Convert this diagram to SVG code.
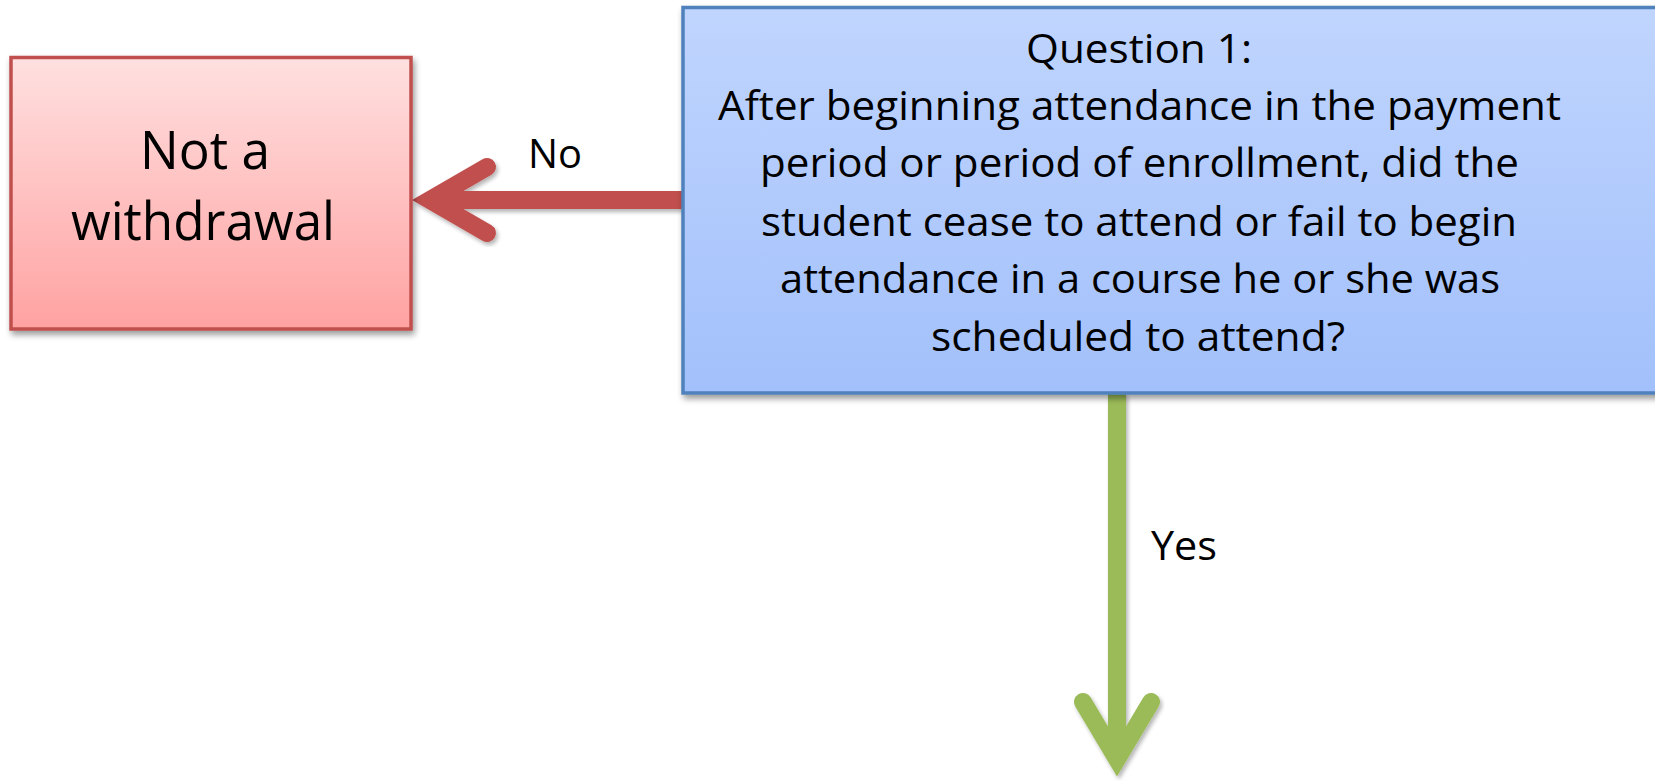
<svg xmlns="http://www.w3.org/2000/svg" width="1655" height="781" viewBox="0 0 1655 781">
  <defs>
    <linearGradient id="gRed" x1="0" y1="0" x2="0" y2="1">
      <stop offset="0" stop-color="#ffe0e0"/>
      <stop offset="1" stop-color="#ffa2a2"/>
    </linearGradient>
    <linearGradient id="gBlue" x1="0" y1="0" x2="0" y2="1">
      <stop offset="0" stop-color="#c0d5fe"/>
      <stop offset="1" stop-color="#a2c0fb"/>
    </linearGradient>
    <filter id="shadow" x="-10%" y="-10%" width="120%" height="130%">
      <feGaussianBlur in="SourceAlpha" stdDeviation="3"/>
      <feOffset dx="2" dy="4" result="b"/>
      <feComponentTransfer><feFuncA type="linear" slope="0.4"/></feComponentTransfer>
      <feMerge><feMergeNode/><feMergeNode in="SourceGraphic"/></feMerge>
    </filter>
    <filter id="ashadow" x="-20%" y="-20%" width="140%" height="140%">
      <feGaussianBlur in="SourceAlpha" stdDeviation="2"/>
      <feOffset dx="2" dy="3" result="b"/>
      <feComponentTransfer><feFuncA type="linear" slope="0.3"/></feComponentTransfer>
      <feMerge><feMergeNode/><feMergeNode in="SourceGraphic"/></feMerge>
    </filter>
  </defs>
  <style>
    text { font-family: "Open Sans", "Noto Sans", "Liberation Sans", sans-serif; fill: #000; }
    .q { font-size: 40.5px; }
    .big { font-size: 52.5px; }
    .lbl { font-size: 40.5px; }
    .arrowRed { fill: none; stroke: #c0504d; stroke-width: 18; }
    .arrowGreen { fill: none; stroke: #9bbb59; stroke-width: 18; }
  </style>

  <g id="connectors">
    <g id="edge-no" filter="url(#ashadow)">
      <line class="arrowRed" x1="683" y1="200" x2="432" y2="200"/>
      <polyline class="arrowRed" points="487,167 430,200 487,233" stroke-linecap="round" stroke-linejoin="miter"/>
    </g>
    <g id="edge-yes" filter="url(#ashadow)">
      <line class="arrowGreen" x1="1117" y1="393" x2="1117" y2="758"/>
      <polyline class="arrowGreen" points="1083,702 1117,759 1151,702" stroke-linecap="round" stroke-linejoin="miter"/>
    </g>
    <text class="lbl" x="528" y="168" textLength="54" lengthAdjust="spacingAndGlyphs">No</text>
    <text class="lbl" x="1151" y="560" textLength="66" lengthAdjust="spacingAndGlyphs">Yes</text>
  </g>

  <g id="node-not-withdrawal">
    <rect x="11" y="57.5" width="400" height="271.5" fill="url(#gRed)" stroke="#c0504d" stroke-width="3.5" filter="url(#shadow)"/>
    <text class="big" x="140" y="169" textLength="130" lengthAdjust="spacingAndGlyphs">Not a</text>
    <text class="big" x="71" y="240" textLength="264" lengthAdjust="spacingAndGlyphs">withdrawal</text>
  </g>

  <g id="node-question1">
    <rect x="683" y="7.5" width="1020" height="385.5" fill="url(#gBlue)" stroke="#4f81bd" stroke-width="3.5" filter="url(#shadow)"/>
    <text class="q" x="1026" y="63" textLength="226" lengthAdjust="spacingAndGlyphs">Question 1:</text>
    <text class="q" x="718" y="120" textLength="843" lengthAdjust="spacingAndGlyphs">After beginning attendance in the payment</text>
    <text class="q" x="760" y="177" textLength="759" lengthAdjust="spacingAndGlyphs">period or period of enrollment, did the</text>
    <text class="q" x="761" y="236" textLength="756" lengthAdjust="spacingAndGlyphs">student cease to attend or fail to begin</text>
    <text class="q" x="780" y="293" textLength="720" lengthAdjust="spacingAndGlyphs">attendance in a course he or she was</text>
    <text class="q" x="931" y="351" textLength="414" lengthAdjust="spacingAndGlyphs">scheduled to attend?</text>
  </g>
</svg>
